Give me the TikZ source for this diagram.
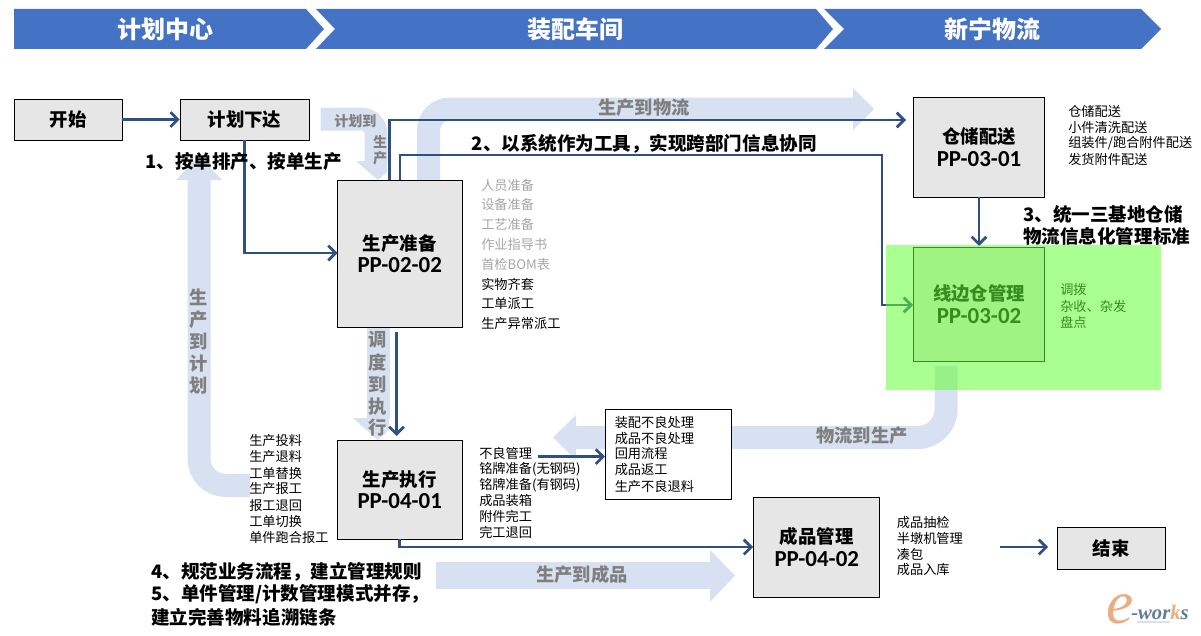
\documentclass[tikz,border=0pt]{standalone}
\usepackage{fontspec}
\usepackage{xcolor}
\usepackage{tikz}
\usetikzlibrary{arrows.meta}
\setmainfont{Noto Sans CJK SC}
\newfontfamily\codefont{Carlito}
\newfontfamily\logofont{Liberation Serif}
\definecolor{banner}{HTML}{4472C4}
\definecolor{boxgrey}{HTML}{E6E6E6}
\definecolor{link}{HTML}{2F5082}
\definecolor{band}{HTML}{D8E1F1}
\definecolor{bandtext}{HTML}{7F7F7F}
\definecolor{soft}{HTML}{A6A6A6}
\definecolor{greenzone}{HTML}{63FF33}
\definecolor{logoorange}{HTML}{E8AD80}
\definecolor{logoblue}{HTML}{5F7C9C}
\tikzset{
  stepbox/.style={draw=black, fill=boxgrey, line width=0.65pt, align=center, inner sep=0pt, font=\fontsize{13.8}{17}\selectfont\bfseries},
  head/.style={text=white, font=\fontsize{18}{20}\selectfont\bfseries},
  flow/.style={-{Straight Barb[length=5.5pt,width=11pt,line width=2pt]}, line width=2pt, draw=link},
  wide/.style={draw=band, line width=17.25pt},
  tag/.style={text=bandtext, font=\fontsize{13.7}{16}\selectfont\bfseries, inner sep=0pt},
  smalltag/.style={text=bandtext, font=\fontsize{10.5}{12}\selectfont\bfseries, inner sep=0pt},
  note/.style={anchor=west, inner sep=0pt, font=\fontsize{13.9}{17}\selectfont\bfseries},
  item/.style={anchor=west, inner sep=0pt, font=\fontsize{9.9}{12}\selectfont}
}
\newcommand{\code}[1]{{\codefont\bfseries\fontsize{17.2}{17}\selectfont #1}}

\begin{document}
\begin{tikzpicture}[x=0.75pt,y=-0.75pt]
  \useasboundingbox (0,0) rectangle (1201,635);

  % header
  \fill[banner] (14,9)--(306,9)--(324,29)--(306,49)--(14,49)--cycle;
  \fill[banner] (316,9)--(816,9)--(833,29)--(816,49)--(316,49)--(335,29)--cycle;
  \fill[banner] (824,9)--(1141,9)--(1161,29)--(1141,49)--(824,49)--(844,29)--cycle;
  \node[head] (plancenter) at (165,29) {计划中心};
  \node[head] (assembly) at (575,29) {装配车间};
  \node[head] (logistics) at (992,29) {新宁物流};

  % wide arrows
  \draw[wide, rounded corners=11pt] (320.7,119)--(376,119)--(376,161);
  \fill[band] (356,161)--(378,180)--(387,172)--(387,161)--cycle;
  \draw[wide, rounded corners=16pt] (428.5,180)--(428.5,109)--(853,109);
  \fill[band] (853,88)--(874,109)--(853,130)--cycle;
  \draw[wide, rounded corners=20pt] (250,485.5)--(199,485.5)--(199,180);
  \fill[band] (176,180)--(199,156)--(222,180)--cycle;
  \draw[wide] (378,327)--(378,418);
  \fill[band] (353,418)--(378,440)--(389,430)--(389,418)--cycle;
  \draw[wide, rounded corners=21pt] (946,366)--(946,437.5)--(576,437.5);
  \fill[band] (576,415)--(553,437.5)--(576,460)--cycle;
  \draw[draw=band, line width=20.25pt] (436,575.5)--(710,575.5);
  \fill[band] (710,550)--(735,575.5)--(710,602)--cycle;

  % boxes
  \node[stepbox, minimum width=81pt, minimum height=30.75pt] (begin) at (68,119.5) {开始};
  \node[stepbox, minimum width=96.75pt, minimum height=30.75pt] (release) at (244.5,119.5) {计划下达};
  \node[stepbox, minimum width=93.75pt, minimum height=110.25pt] (prep) at (399.75,253.5) {生产准备\\\code{PP-02-02}};
  \node[stepbox, minimum width=93.75pt, minimum height=74.25pt] (exec) at (399.75,489.5) {生产执行\\\code{PP-04-01}};
  \node[stepbox, minimum width=98.5pt, minimum height=75pt] (store) at (979,147) {仓储配送\\\code{PP-03-01}};
  \node[stepbox, minimum width=98.5pt, minimum height=85.5pt] (side) at (979,304) {线边仓管理\\\code{PP-03-02}};
  \node[stepbox, minimum width=94.75pt, minimum height=75pt] (goods) at (816.75,547) {成品管理\\\code{PP-04-02}};
  \node[stepbox, minimum width=81.5pt, minimum height=31.5pt] (finish) at (1111.3,548) {结束};
  \node[draw=black, fill=white, line width=0.65pt, minimum width=95pt, minimum height=67.5pt, inner sep=0pt] (reject) at (668.3,454) {};

  % free ends
  \coordinate (prepA) at (389.6,180);
  \coordinate (prepB) at (400,180);
  \coordinate (prepC) at (396.5,332);
  \coordinate (execIn) at (396.5,436);
  \coordinate (storeIn) at (906,120);
  \coordinate (sideIn) at (913,305);
  \coordinate (prepIn) at (337.5,253);
  \coordinate (goodsIn) at (753,547);
  \coordinate (rejectOut) at (537.7,456.7);
  \coordinate (rejectIn) at (605,456.7);
  \coordinate (finishOut) at (1000,547);
  \coordinate (finishIn) at (1048,547);

  % connectors
  \draw[flow] (begin)--(release);
  \draw[flow] (release.south) |- (prepIn);
  \draw[flow] (prepA) |- (storeIn);
  \draw[flow] (prepB)--(400,155)--(882,155)--(882,305)--(sideIn);
  \draw[flow] (prepC)--(execIn);
  \draw[flow] (exec.south) |- (goodsIn);
  \draw[flow] (rejectOut)--(rejectIn);
  \draw[flow] (finishOut)--(finishIn);
  \draw[flow] (store.south)--(979,246);

  % side list under the green
  \foreach \txt [count=\i] in {调拨,杂收、杂发,盘点}{
    \node[item] (sideitem\i) at (1060,{290+(\i-1)*16}) {\txt};
  }

  % green area
  \fill[greenzone, opacity=0.55] (886,245) rectangle (1161,390);

  % lists
  \foreach \txt [count=\i] in {人员准备,设备准备,工艺准备,作业指导书,首检BOM表}{
    \node[item, text=soft] (prepitem\i) at (481,{185+(\i-1)*19.8}) {\txt};
  }
  \foreach \txt [count=\i] in {实物齐套,工单派工,生产异常派工}{
    \node[item] (prepwork\i) at (481,{284+(\i-1)*20}) {\txt};
  }
  \foreach \txt [count=\i] in {仓储配送,小件清洗配送,组装件/跑合附件配送,发货附件配送}{
    \node[item] (storeitem\i) at (1068,{111.5+(\i-1)*16}) {\txt};
  }
  \foreach \txt [count=\i] in {生产投料,生产退料,工单替换,生产报工,报工退回,工单切换,单件跑合报工}{
    \node[item] (feeditem\i) at (249,{441+(\i-1)*16}) {\txt};
  }
  \foreach \txt [count=\i] in {不良管理,铭牌准备(无钢码),铭牌准备(有钢码),成品装箱,附件完工,完工退回}{
    \node[item] (execitem\i) at (479,{453+(\i-1)*15.9}) {\txt};
  }
  \foreach \txt [count=\i] in {装配不良处理,成品不良处理,回用流程,成品返工,生产不良退料}{
    \node[item] (rejectitem\i) at (614.5,{422+(\i-1)*16}) {\txt};
  }
  \foreach \txt [count=\i] in {成品抽检,半墩机管理,凑包,成品入库}{
    \node[item] (goodsitem\i) at (896.6,{522+(\i-1)*16}) {\txt};
  }

  % wide arrow labels
  \node[smalltag, anchor=west] (tagA) at (334,121) {计划到};
  \node[smalltag] (tagB) at (380,142) {生};
  \node[smalltag] (tagC) at (380,158) {产};
  \node[tag] (tagD) at (644,108) {生产到物流};
  \foreach \txt/\y in {生/297,产/320,到/342,计/364,划/386}{
    \node[tag] (up\txt) at (199,\y) {\txt};
  }
  \foreach \txt/\y in {调/340,度/362,到/385,执/407,行/428}{
    \node[tag] (down\txt) at (378,\y) {\txt};
  }
  \node[tag] (tagE) at (862,436) {物流到生产};
  \node[tag] (tagF) at (582,575) {生产到成品};

  % notes
  \node[note] (noteA) at (145,162) {1、按单排产、按单生产};
  \node[note] (noteB) at (471.5,144) {2、以系统作为工具，实现跨部门信息协同};
  \node[note] (noteC) at (1023,214) {3、统一三基地仓储};
  \node[note] (noteD) at (1023,236) {物流信息化管理标准};
  \node[note] (noteE) at (151,572) {4、规范业务流程，建立管理规则};
  \node[note] (noteF) at (151,594) {5、单件管理/计数管理模式并存，};
  \node[note] (noteG) at (151,617) {建立完善物料追溯链条};

  % logo
  \fill[band] (1137,621) rectangle (1170,623);
  \node[inner sep=0pt, text=logoorange, font=\logofont\fontsize{46}{46}\selectfont\itshape] (logoE) at (1120,609) {e};
  \node[inner sep=0pt, text=logoblue, anchor=west, font=\logofont\fontsize{15.5}{15}\selectfont\bfseries\itshape] (logoW) at (1131,612) {-wor\textcolor{logoorange}{k}s};
\end{tikzpicture}
\end{document}
